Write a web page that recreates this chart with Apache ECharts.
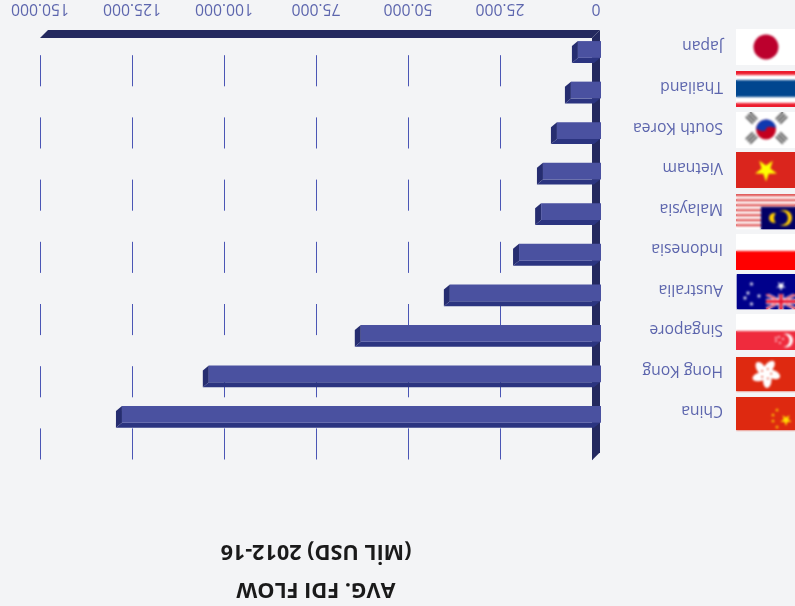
<!DOCTYPE html>
<html><head><meta charset="utf-8">
<style>html,body{margin:0;padding:0;background:#f3f4f6}#c{width:795px;height:606px}</style>
<script src="https://cdn.jsdelivr.net/npm/echarts@6/dist/echarts.min.js"></script>
</head><body><div id="c"></div>
<script>
const categories = ['Japan','Thailand','South Korea','Vietnam','Malaysia','Indonesia','Australia','Singapore','Hong Kong','China'];
const fdiFlow = [6000,7900,11700,15500,16000,22000,40800,65000,106300,129900];
const tickValues = [0,25000,50000,75000,100000,125000,150000];
const tickLabels = ['0','25.000','50.000','75.000','100.000','125.000','150.000'];
const titleLines = ['AVG. FDI FLOW','(MİL USD) 2012-16'];

const BG='#f3f4f6', FACE='#4a51a0', SIDE='#2b3480', WALL='#24295f', GRIDC='#4a55b5', TXT='#5c65ad';
const LABEL_FONT='Open Sans', LABEL_SIZE=15.7;
const DX=8, DY=8;   // wall depth
const BX=6, BY=5;   // bar depth

function star(c,x,y,r,rot){c.beginPath();for(let i=0;i<10;i++){const a=rot+i*Math.PI/5,q=i%2?r*0.4:r;c.lineTo(x+q*Math.sin(a),y-q*Math.cos(a));}c.closePath();c.fill();}
const flagDraw = {
 Japan(c){c.fillStyle='#fff';c.fillRect(0,0,60,36);c.fillStyle='#bc002d';c.beginPath();c.arc(30,18,12.5,0,7);c.fill();},
 Thailand(c){c.fillStyle='#ed1c2e';c.fillRect(0,0,60,36);c.fillStyle='#fff';c.fillRect(0,4,60,28);c.fillStyle='#00468f';c.fillRect(0,9,60,17);},
 'South Korea'(c){c.fillStyle='#fff';c.fillRect(0,0,60,36);c.fillStyle='#c4001f';c.beginPath();c.arc(30,17.5,10,0,7);c.fill();c.fillStyle='#0f39b0';c.beginPath();c.arc(30,17.5,10,Math.PI*1.05,Math.PI*1.95);c.quadraticCurveTo(30,13,30,17.5);c.quadraticCurveTo(28,21,20,16.5);c.fill();c.fillStyle='#555';[[15.5,6,1],[45.5,6,-1],[15.5,26,-1],[45.5,26,1]].forEach(p=>{c.save();c.translate(p[0],p[1]);c.rotate(p[2]*Math.PI/4);for(const dy of [-4,-1,2])c.fillRect(-5,dy,10,2);c.restore();});},
 Vietnam(c){c.fillStyle='#da251d';c.fillRect(0,0,60,36);c.fillStyle='#ff0';star(c,30,18,11.5,Math.PI);},
 Malaysia(c){for(let i=0;i<14;i++){c.fillStyle=i%2?'#fff':'#e05a5a';c.fillRect(0,i*2.5,60,2.5);}c.fillStyle='#010066';c.fillRect(25,13,35,22);c.fillStyle='#fc0';c.beginPath();c.arc(38,24,5,0,7);c.fill();c.beginPath();c.arc(48,24,8,0,7);c.fill();c.fillStyle='#010066';c.beginPath();c.arc(45,24,7,0,7);c.fill();},
 Indonesia(c){c.fillStyle='#fff';c.fillRect(0,0,60,17);c.fillStyle='#f00';c.fillRect(0,17,60,19);},
 Australia(c){c.fillStyle='#00008b';c.fillRect(1,0,59,35);c.fillStyle='#fff';star(c,45,12,5,Math.PI);[[15.5,10],[12,19],[9,24],[23,22],[15.5,30]].forEach(p=>star(c,p[0],p[1],2.4,0));c.save();c.beginPath();c.rect(30,20,30,15);c.clip();c.strokeStyle='#fff';c.lineWidth=3;c.beginPath();c.moveTo(30,20);c.lineTo(60,35);c.moveTo(60,20);c.lineTo(30,35);c.stroke();c.strokeStyle='#e8112d';c.lineWidth=1.2;c.stroke();c.strokeStyle='#fff';c.lineWidth=5;c.beginPath();c.moveTo(45,20);c.lineTo(45,35);c.moveTo(30,27.5);c.lineTo(60,27.5);c.stroke();c.strokeStyle='#e8112d';c.lineWidth=3;c.stroke();c.restore();},
 Singapore(c){c.fillStyle='#fff';c.fillRect(0,0,60,17);c.fillStyle='#ef2b3d';c.fillRect(0,17,60,19);c.fillStyle='#fff';c.beginPath();c.arc(50,26.5,7,0,7);c.fill();c.fillStyle='#ef2b3d';c.beginPath();c.arc(47,26.5,6.5,0,7);c.fill();c.fillStyle='#fff';[[43,23],[47,25],[44,29],[40,27],[40,24]].forEach(p=>star(c,p[0],p[1],1.5,0));},
 'Hong Kong'(c){c.fillStyle='#de2910';c.fillRect(0,0,60,34);c.fillStyle='#fff';for(let i=0;i<5;i++){const a=i*2*Math.PI/5+0.3;c.save();c.translate(30,16.5);c.rotate(a);c.beginPath();c.ellipse(1,-7,4.2,7.5,0.4,0,7);c.fill();c.restore();}c.fillStyle='#de2910';for(let i=0;i<5;i++){const a=i*2*Math.PI/5+0.3;c.fillRect(30+5*Math.sin(a)-.5,16.5-5*Math.cos(a)-.5,1.5,1.5);}},
 China(c){c.fillStyle='#de2910';c.fillRect(0,0,60,33);c.fillStyle='#ffde00';star(c,50,23,6,Math.PI);[[41,13],[37,18],[37,24],[41,30]].forEach(p=>star(c,p[0],p[1],2,0.6));}
};
const flagY = {Japan:29,Thailand:71,'South Korea':112,Vietnam:152,Malaysia:194,Indonesia:234,Australia:274,Singapore:314,'Hong Kong':357,China:397};
function flagImage(name){const cv=document.createElement('canvas');cv.width=60;cv.height=36;const c=cv.getContext('2d');
  const t=document.createElement('canvas');t.width=60;t.height=36;flagDraw[name](t.getContext('2d'));
  c.drawImage(t,0,0);c.filter='blur(0.9px)';c.drawImage(t,0,0);return cv;}
const flagImgs = categories.map(flagImage);

const chart = echarts.init(document.getElementById('c'),null,{renderer:'canvas'});
chart.setOption({
 animation:false, backgroundColor:BG,
 grid:{left:40,right:795-592,top:29.2,height:405.5,containLabel:false},
 xAxis:{type:'value',inverse:true,position:'top',min:0,max:150000,interval:25000,
   axisLine:{show:false},axisTick:{show:false},splitLine:{show:false},
   axisLabel:{rotate:180,margin:21,color:TXT,fontFamily:LABEL_FONT,fontSize:LABEL_SIZE,align:'center',verticalAlign:'middle',showMinLabel:true,showMaxLabel:true,hideOverlap:false,
     formatter:v=>{const s=tickLabels[tickValues.indexOf(v)];return v===0?'{z|'+s+'}':s;},
     rich:{z:{color:TXT,fontFamily:LABEL_FONT,fontSize:LABEL_SIZE,padding:[0,8,0,0]}}}},
 yAxis:{type:'category',inverse:true,data:categories,position:'right',
   axisLine:{show:false},axisTick:{show:false},
   axisLabel:{interval:0,rotate:180,margin:131,align:'left',verticalAlign:'middle',
     formatter:s=>'{c|'+s+'}',
     rich:{c:{color:TXT,fontFamily:LABEL_FONT,fontSize:LABEL_SIZE,padding:[7,0,0,0]}}}},
 graphic:[
  {type:'text',x:316,y:589,rotation:Math.PI,z:10,style:{text:titleLines[0],fontFamily:'Open Sans',fontWeight:'bold',fontSize:21.6,fill:'#1a1a1a',textAlign:'center',textVerticalAlign:'middle'}},
  {type:'text',x:316,y:551,rotation:Math.PI,z:10,style:{text:titleLines[1],fontFamily:'Open Sans',fontWeight:'bold',fontSize:21.6,fill:'#1a1a1a',textAlign:'center',textVerticalAlign:'middle'}}
 ],
 series:[
  {type:'custom',silent:true,clip:false,z:1,data:tickValues.map(v=>[v,0]),encode:{x:0,y:1},
   renderItem(p,api){const x=api.coord([api.value(0),0])[0];const g=p.coordSys;
     return {type:'line',shape:{x1:x+.5,y1:g.y+DY+g.height+DY+DY+.8,x2:x+.5,y2:g.y+DY},style:{stroke:GRIDC,lineWidth:1,lineDash:[31.1,31.1]}};}},
  {type:'custom',silent:true,clip:false,z:2,data:[[0,0]],encode:{x:0,y:1},
   renderItem(p,api){const z=api.coord([0,0])[0],m=api.coord([150000,0])[0],g=p.coordSys,t=g.y+.8,b=g.y+g.height+17.5;
     return {type:'group',children:[
       {type:'polygon',shape:{points:[[m+DX,t],[z+DX,t],[z,t+DY],[m,t+DY]]},style:{fill:WALL}},
       {type:'polygon',shape:{points:[[z,t+DY],[z+DX,t],[z+DX,b],[z,b+DY]]},style:{fill:WALL}}
     ]};}},
  {type:'custom',silent:true,clip:false,z:3,name:'Avg. FDI flow',data:fdiFlow.map((v,i)=>[v,i]),encode:{x:0,y:1},
   renderItem(p,api){const a=api.coord([api.value(0),api.value(1)]),z=api.coord([0,api.value(1)])[0]+DX,l=a[0]+DX,y=a[1],h=8.4;
     return {type:'group',children:[
       {type:'polygon',shape:{points:[[l,y-h],[l-BX,y-h+BY],[l-BX,y+h+BY],[l,y+h]]},style:{fill:'#262d70'}},
       {type:'polygon',shape:{points:[[l,y+h],[l-BX,y+h+BY],[z-BX,y+h+BY],[z,y+h]]},style:{fill:SIDE}},
       {type:'rect',shape:{x:l,y:y-h,width:z-l+1,height:2*h},style:{fill:FACE}}
     ]};}},
  {type:'custom',silent:true,clip:false,z:4,data:categories.map((c,i)=>[0,i]),encode:{x:0,y:1},
   renderItem(p,api){const i=api.value(1);return {type:'image',style:{image:flagImgs[i],x:736,y:flagY[categories[i]],width:60,height:36}};}}
 ]
});
</script></body></html>
